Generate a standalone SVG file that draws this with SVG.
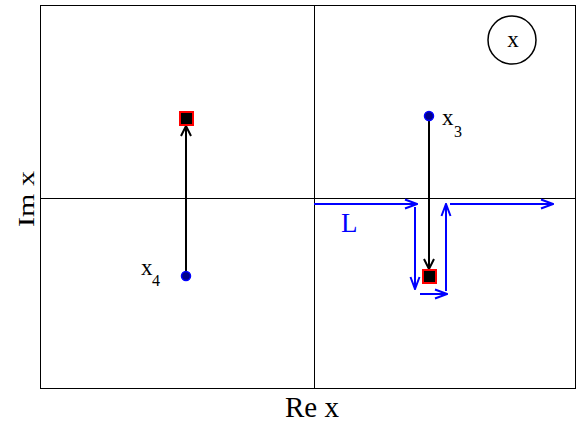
<svg xmlns="http://www.w3.org/2000/svg" width="576" height="428" viewBox="0 0 576 428">
<style>
text{font-family:"Liberation Serif","Times New Roman",serif;fill:#000}
.ax{stroke:#000;stroke-width:1;fill:none}
.blk{stroke:#000;stroke-width:2;fill:none}
.blu{stroke:#0000ff;stroke-width:2;fill:none}
.dot{fill:#00008b;stroke:#0000ff;stroke-width:1.5}
.sq{fill:#000;stroke:#ff0000;stroke-width:2}
.v{font-size:23px}
.s{font-size:16px}
</style>
<defs>
<marker id="ab" viewBox="0 0 12 12" refX="11" refY="6" markerWidth="12" markerHeight="12" markerUnits="userSpaceOnUse" orient="auto"><path d="M1,1 L11,6 L1,11" fill="none" stroke="#000" stroke-width="2"/></marker>
<marker id="au" viewBox="0 0 14 12" refX="13" refY="6" markerWidth="14" markerHeight="12" markerUnits="userSpaceOnUse" orient="auto"><path d="M1,1.5 L13,6 L1,10.5" fill="none" stroke="#0000ff" stroke-width="2"/></marker>
</defs>
<g id="frame">
<rect x="40.5" y="5.5" width="535" height="383" class="ax"/>
<line x1="314.5" y1="5" x2="314.5" y2="389" class="ax"/>
<line x1="40" y1="198.5" x2="576" y2="198.5" class="ax"/>
</g>
<g id="connectors">
<line x1="186" y1="276" x2="186" y2="126" class="blk" marker-end="url(#ab)"/>
<line x1="429" y1="116" x2="429" y2="269" class="blk" marker-end="url(#ab)"/>
<line x1="314" y1="204" x2="417" y2="204" class="blu" marker-end="url(#au)"/>
<line x1="415" y1="207" x2="415" y2="289" class="blu" marker-end="url(#au)"/>
<line x1="420" y1="294" x2="447" y2="294" class="blu" marker-end="url(#au)"/>
<line x1="446" y1="291" x2="446" y2="204" class="blu" marker-end="url(#au)"/>
<line x1="450" y1="204" x2="553" y2="204" class="blu" marker-end="url(#au)"/>
</g>
<g id="x4">
<circle cx="186" cy="276" r="4.5" class="dot"/>
<text x="141" y="275" class="v">x</text>
<text x="152" y="286" class="s">4</text>
</g>
<g id="x4pole"><rect x="180" y="112" width="13" height="13" class="sq"/></g>
<g id="x3">
<circle cx="429" cy="116" r="4.5" class="dot"/>
<text x="442" y="125" class="v">x</text>
<text x="454" y="137" class="s">3</text>
</g>
<g id="x3pole"><rect x="423" y="270" width="13" height="13" class="sq"/></g>
<g id="L"><text x="341" y="232" font-size="27" style="fill:#0000ff">L</text></g>
<g id="xcircle">
<circle cx="512" cy="40" r="24" fill="none" stroke="#000" stroke-width="1.5"/>
<text x="513" y="47" class="v" text-anchor="middle">x</text>
</g>
<g id="labels">
<text x="285" y="417" font-size="29">Re x</text>
<text x="0" y="0" font-size="30" text-anchor="middle" transform="translate(34,199) rotate(-90) scale(1,0.8)">Im x</text>
</g>
</svg>
